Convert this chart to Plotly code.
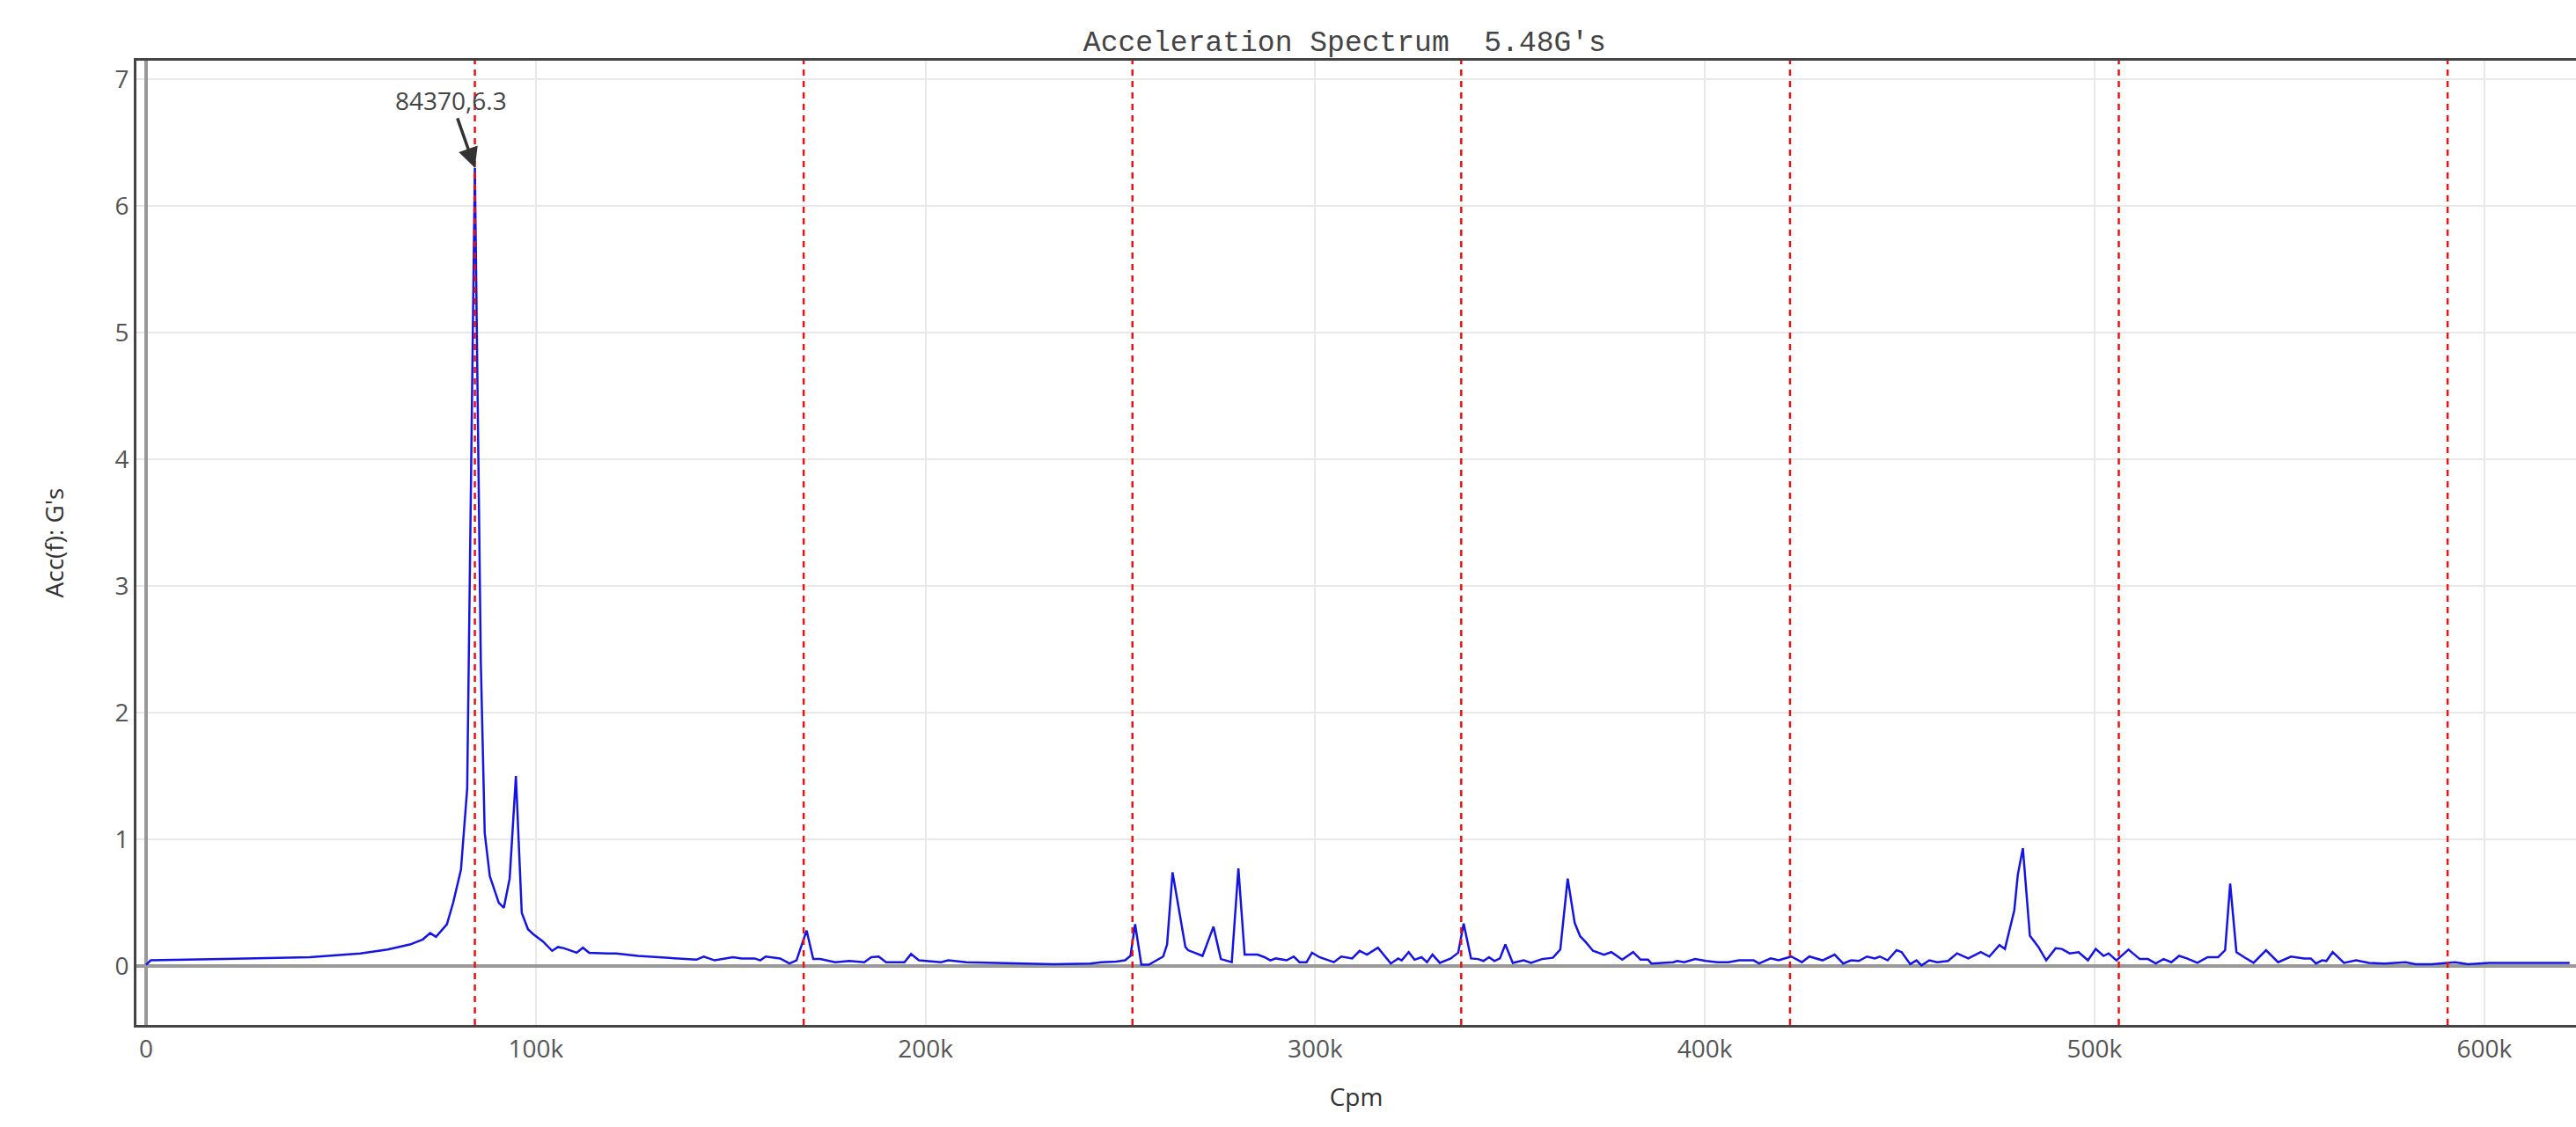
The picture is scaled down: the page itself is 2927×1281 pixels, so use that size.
import plotly.graph_objects as go

# ---- data ----
cpm = [
    0, 1200, 20000, 42000, 55000, 62000, 67700, 71000, 72900, 74400, 77200, 78800, 80800, 82400,
    84370, 85900, 86900, 88200, 90500, 91800, 93300, 94900, 96400, 98000, 99400, 101800, 104200,
    105700, 107300, 110500, 112100, 113700, 118400, 120600, 126200, 141200, 143100, 145900, 150600,
    152900, 156200, 157600, 159000, 162700, 165100, 166900, 169500, 171200, 173000, 176800, 180500,
    184300, 186100, 188000, 189900, 194600, 196300, 198300, 204000, 205800, 210500, 216100, 223600,
    233000, 242300, 245100, 248900, 251200, 252600, 253800, 255400, 257300, 261000, 262000, 263400,
    266700, 267400, 271100, 273900, 275800, 278600, 280300, 281900, 285200, 287000, 288500, 289900,
    292700, 294500, 296000, 297800, 299200, 301100, 304800, 306700, 309500, 311400, 313300, 316100,
    318000, 319400, 321300, 322200, 324000, 325500, 327300, 328700, 330100, 332000, 334800, 336700,
    338100, 340000, 341800, 343200, 344600, 346000, 347400, 348800, 350700, 353500, 355400, 358200,
    361000, 362900, 364800, 366600, 368000, 369400, 371300, 374100, 376000, 378800, 381600, 383500,
    385400, 386300, 389100, 391900, 392900, 394700, 397500, 400300, 403200, 406000, 408800, 412500,
    413900, 416900, 418900, 422200, 424900, 426800, 430200, 433300, 435500, 437500, 439500, 441600,
    443600, 444900, 446900, 449200, 450500, 452700, 454300, 455600, 457600, 459600, 462400, 464700,
    467600, 470800, 473000, 475600, 477000, 479400, 480300, 481600, 483400, 485600, 487600, 490000,
    491600, 493600, 495900, 498300, 500300, 502300, 503600, 505600, 508700, 511600, 513700, 515700,
    517700, 519700, 521700, 523700, 526400, 529000, 531700, 533500, 534800, 536400, 538400, 540800,
    544000, 547100, 550400, 553800, 555500, 556800, 558400, 559500, 561100, 564000, 567100, 570400,
    574400, 579800, 582400, 586500, 592500, 595800, 601200, 606500, 611900, 617200, 621900,
]
acc = [
    0.01, 0.045, 0.055, 0.07, 0.10, 0.13, 0.17, 0.21, 0.26, 0.23, 0.33, 0.50, 0.76, 1.40,
    6.30, 2.40, 1.05, 0.71, 0.50, 0.46, 0.69, 1.50, 0.42, 0.29, 0.25, 0.195, 0.12,
    0.15, 0.14, 0.105, 0.145, 0.105, 0.10, 0.10, 0.08, 0.05, 0.075, 0.045, 0.07,
    0.06, 0.06, 0.045, 0.075, 0.06, 0.02, 0.045, 0.28, 0.055, 0.055, 0.03, 0.04,
    0.03, 0.07, 0.075, 0.03, 0.03, 0.095, 0.045, 0.03, 0.045, 0.03, 0.025, 0.02,
    0.015, 0.02, 0.03, 0.035, 0.045, 0.08, 0.33, 0.01, 0.01, 0.075, 0.17, 0.74,
    0.15, 0.125, 0.08, 0.31, 0.055, 0.03, 0.77, 0.09, 0.09, 0.07, 0.045, 0.06,
    0.045, 0.075, 0.03, 0.03, 0.105, 0.07, 0.03, 0.075, 0.06, 0.12, 0.09, 0.145,
    0.07, 0.02, 0.06, 0.045, 0.11, 0.05, 0.07, 0.03, 0.09, 0.025, 0.06, 0.105,
    0.335, 0.06, 0.055, 0.04, 0.07, 0.04, 0.06, 0.17, 0.025, 0.045, 0.025, 0.055,
    0.065, 0.13, 0.69, 0.34, 0.235, 0.19, 0.12, 0.09, 0.11, 0.05, 0.11, 0.05,
    0.05, 0.02, 0.025, 0.03, 0.04, 0.03, 0.055, 0.04, 0.03, 0.03, 0.045, 0.045,
    0.02, 0.06, 0.045, 0.075, 0.03, 0.075, 0.045, 0.09, 0.02, 0.045, 0.04, 0.075,
    0.06, 0.075, 0.045, 0.125, 0.11, 0.015, 0.045, 0.005, 0.045, 0.03, 0.04, 0.10,
    0.06, 0.11, 0.075, 0.165, 0.135, 0.44, 0.72, 0.93, 0.24, 0.15, 0.045, 0.14,
    0.135, 0.10, 0.11, 0.045, 0.135, 0.08, 0.10, 0.045, 0.13, 0.055, 0.055, 0.02,
    0.055, 0.03, 0.08, 0.06, 0.025, 0.07, 0.07, 0.125, 0.65, 0.11, 0.07, 0.025,
    0.125, 0.03, 0.075, 0.06, 0.06, 0.02, 0.045, 0.04, 0.11, 0.025, 0.045, 0.025,
    0.02, 0.03, 0.015, 0.015, 0.03, 0.015, 0.025, 0.025, 0.03, 0.025, 0.025,
]
fundamental_cpm = 84370
harmonic_orders = [1, 2, 3, 4, 5, 6, 7]
peak_label = "84370,6.3"
peak_x, peak_y = 84370, 6.3
x_ticks = [0, 100000, 200000, 300000, 400000, 500000, 600000]
x_ticktext = ["0", "100k", "200k", "300k", "400k", "500k", "600k"]
y_ticks = [0, 1, 2, 3, 4, 5, 6, 7]

fig = go.Figure()
fig.add_trace(go.Scatter(x=cpm, y=acc, mode="lines",
                         line=dict(color="#1414e6", width=2.5),
                         showlegend=False, hoverinfo="x+y"))

for k in harmonic_orders:
    fig.add_shape(type="line", xref="x", yref="paper",
                  x0=fundamental_cpm * k, x1=fundamental_cpm * k, y0=0, y1=1,
                  line=dict(color="#ee1111", width=2.5, dash="7px,6px"), layer="above")

fig.add_annotation(x=peak_x, y=peak_y, xref="x", yref="y", text=peak_label,
                   showarrow=True, arrowhead=2, arrowsize=1.3, arrowwidth=3.5,
                   arrowcolor="#333333", ax=-27, ay=-77,
                   font=dict(family="Open Sans", size=28, color="#444444"))

fig.update_layout(
    width=2927, height=1281,
    margin=dict(l=155, r=0, t=69, b=116),
    paper_bgcolor="white", plot_bgcolor="white",
    font=dict(family="Open Sans", size=28, color="#444444"),
    title=dict(text="Acceleration Spectrum  5.48G's", x=0.522, xanchor="center",
               y=1 - 46 / 1281, yanchor="middle", xref="container", yref="container",
               font=dict(family="Liberation Mono", size=33, color="#444444")),
    xaxis=dict(range=[-2480, 623540], tickvals=x_ticks, ticktext=x_ticktext,
               showgrid=True, gridcolor="#e8e8e8", gridwidth=2,
               zeroline=True, zerolinecolor="#999999", zerolinewidth=4,
               showline=True, linecolor="#444444", linewidth=3, mirror=True,
               ticks="", title=dict(text="Cpm", font=dict(size=28, color="#333333"), standoff=29),
               tickfont=dict(size=28, color="#555555")),
    yaxis=dict(range=[-0.465, 7.146], tickvals=y_ticks,
               showgrid=True, gridcolor="#e8e8e8", gridwidth=2,
               zeroline=True, zerolinecolor="#999999", zerolinewidth=4,
               showline=True, linecolor="#444444", linewidth=3, mirror=False,
               ticks="", title=dict(text="Acc(f): G's", font=dict(size=28, color="#333333"), standoff=50),
               tickfont=dict(size=28, color="#555555")),
)

fig.write_html("out.html", config={"displayModeBar": False},
               post_script="document.body.style.margin='0';")
